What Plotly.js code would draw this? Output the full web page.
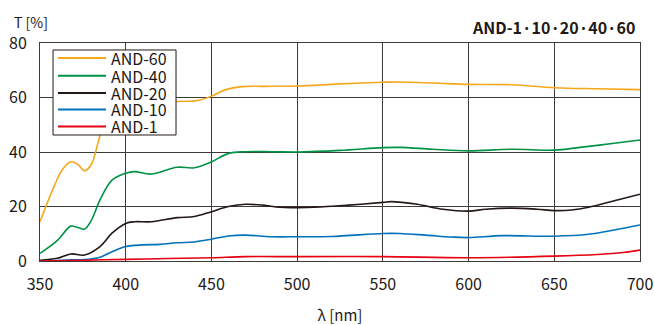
<!DOCTYPE html>
<html><head><meta charset="utf-8">
<script src="https://cdn.plot.ly/plotly-3.0.1.min.js"></script>
<style>html,body{margin:0;padding:0;background:#fff}#chart{width:654px;height:325px}</style>
</head><body><div id="chart"></div>
<script>
const seriesNames = ["AND-60","AND-40","AND-20","AND-10","AND-1"];
const seriesColors = ["#f5a81c","#009245","#231815","#0072bc","#e60012"];
const wl60 = [350,358,363,368,372,376,380,385,390,395,405,420,435,443,450,458,468,480,500,525,550,560,580,600,625,650,675,700];
const t60  = [14.4,27,33.5,36.4,35.5,33.1,35.5,46,54,57.5,58.5,58.6,58.6,59,60.5,62.8,64,64.1,64.2,65,65.6,65.7,65.3,64.8,64.7,63.6,63.2,62.9];
const wl40 = [350,360,368,372,376,380,385,392,400,405,415,430,440,450,460,470,485,500,525,550,560,579,600,625,650,665,685,700];
const t40  = [2.8,7.5,12.8,12.3,11.7,15,22.4,29.7,32.2,32.8,31.9,34.4,34.2,36.4,39.5,40.1,40.1,40,40.6,41.6,41.7,41,40.4,41,40.7,41.7,43.2,44.4];
const wl20 = [350,360,368,376,385,392,400,405,415,430,440,450,460,470,480,490,500,510,530,550,555,570,585,600,610,625,640,650,660,670,685,700];
const t20  = [0.3,1,2.6,2.2,5.3,10.2,13.8,14.4,14.4,15.9,16.3,18.1,20,20.8,20.5,19.7,19.6,19.7,20.5,21.5,21.8,20.8,19,18.3,19,19.4,19,18.5,18.7,19.7,22.1,24.5];
const wl10 = [350,360,368,376,385,392,400,410,420,430,440,450,460,470,485,500,520,550,560,575,590,600,620,650,670,685,700];
const t10  = [0,0.2,0.4,0.5,1.4,3.4,5.3,5.9,6.1,6.7,7,8,9.2,9.5,8.9,8.9,9,10.1,10.1,9.5,8.8,8.6,9.3,9.1,9.8,11.4,13.2];
const wl1  = [350,375,400,425,450,470,500,550,600,650,675,690,700];
const t1   = [0,0.3,0.6,0.9,1.2,1.6,1.6,1.6,1.2,1.8,2.4,3.1,4.0];
const xTicks = [350,400,450,500,550,600,650,700];
const yTicks = [0,20,40,60,80];

const xs = [wl60, wl40, wl20, wl10, wl1];
const ys = [t60, t40, t20, t10, t1];
const FONT = "Noto Sans CJK JP, Noto Sans, sans-serif";
const DARK = "#231815";
const traces = seriesNames.map((n,i)=>({
  x: xs[i], y: ys[i], name: n, type: "scatter", mode: "lines",
  line: {color: seriesColors[i], width: 1.6, shape: "spline", smoothing: 1}
}));

// legend drawn as paper-space shapes + annotations (box, sample lines, labels)
const legBox = {x0: 0.0217, x1: 0.2267, y0: 0.578, y1: 0.968};
const legLineX = [0.030, 0.110];
const legTextX = 0.1150;
const legRowY = [0.931, 0.850, 0.771, 0.695, 0.617];
const shapes = [{type: "rect", xref: "paper", yref: "paper", x0: legBox.x0, x1: legBox.x1, y0: legBox.y0, y1: legBox.y1,
  line: {color: DARK, width: 1}, fillcolor: "#fff", layer: "above"}];
const annotations = [];
seriesNames.forEach((n,i)=>{
  shapes.push({type: "line", xref: "paper", yref: "paper", x0: legLineX[0], x1: legLineX[1], y0: legRowY[i], y1: legRowY[i],
    line: {color: seriesColors[i], width: 2}, layer: "above"});
  annotations.push({text: n, xref: "paper", yref: "paper", x: legTextX, y: legRowY[i], xanchor: "left", yanchor: "middle",
    showarrow: false, font: {size: 16, family: FONT, color: DARK}});
});
annotations.push(
  {text: "T [%]", xref: "paper", yref: "paper", x: 0, y: 1, xanchor: "left", yanchor: "middle",
   xshift: -28, yshift: 21, showarrow: false, font: {size: 14, family: FONT, color: DARK}},
  {text: "<b>AND-1·10·20·40·60</b>", xref: "paper", yref: "paper", x: 1, y: 1, xanchor: "right", yanchor: "middle",
   xshift: -3, yshift: 16, showarrow: false, font: {size: 16, family: FONT, color: DARK}}
);

const layout = {
  width: 654, height: 325,
  margin: {l: 40, r: 14, t: 43, b: 64},
  paper_bgcolor: "#fff", plot_bgcolor: "#fff",
  font: {family: FONT, color: DARK, size: 16},
  showlegend: false,
  xaxis: {range: [350, 700], tickvals: xTicks, ticktext: xTicks.map(String),
    showgrid: true, gridcolor: "#3e3a39", gridwidth: 1, zeroline: false,
    showline: true, linecolor: "#3e3a39", linewidth: 1, mirror: true, ticks: "",
    tickfont: {size: 16}, ticklabelstandoff: 9,
    title: {text: "λ [nm]", font: {size: 15}, standoff: 18}},
  yaxis: {range: [0, 80], tickvals: yTicks, ticktext: yTicks.map(String),
    showgrid: true, gridcolor: "#3e3a39", gridwidth: 1, zeroline: false,
    showline: true, linecolor: "#3e3a39", linewidth: 1, mirror: true, ticks: "",
    tickfont: {size: 16}, ticklabelstandoff: 9},
  shapes: shapes,
  annotations: annotations
};
Plotly.newPlot("chart", traces, layout, {displayModeBar: false, staticPlot: true});
</script></body></html>
